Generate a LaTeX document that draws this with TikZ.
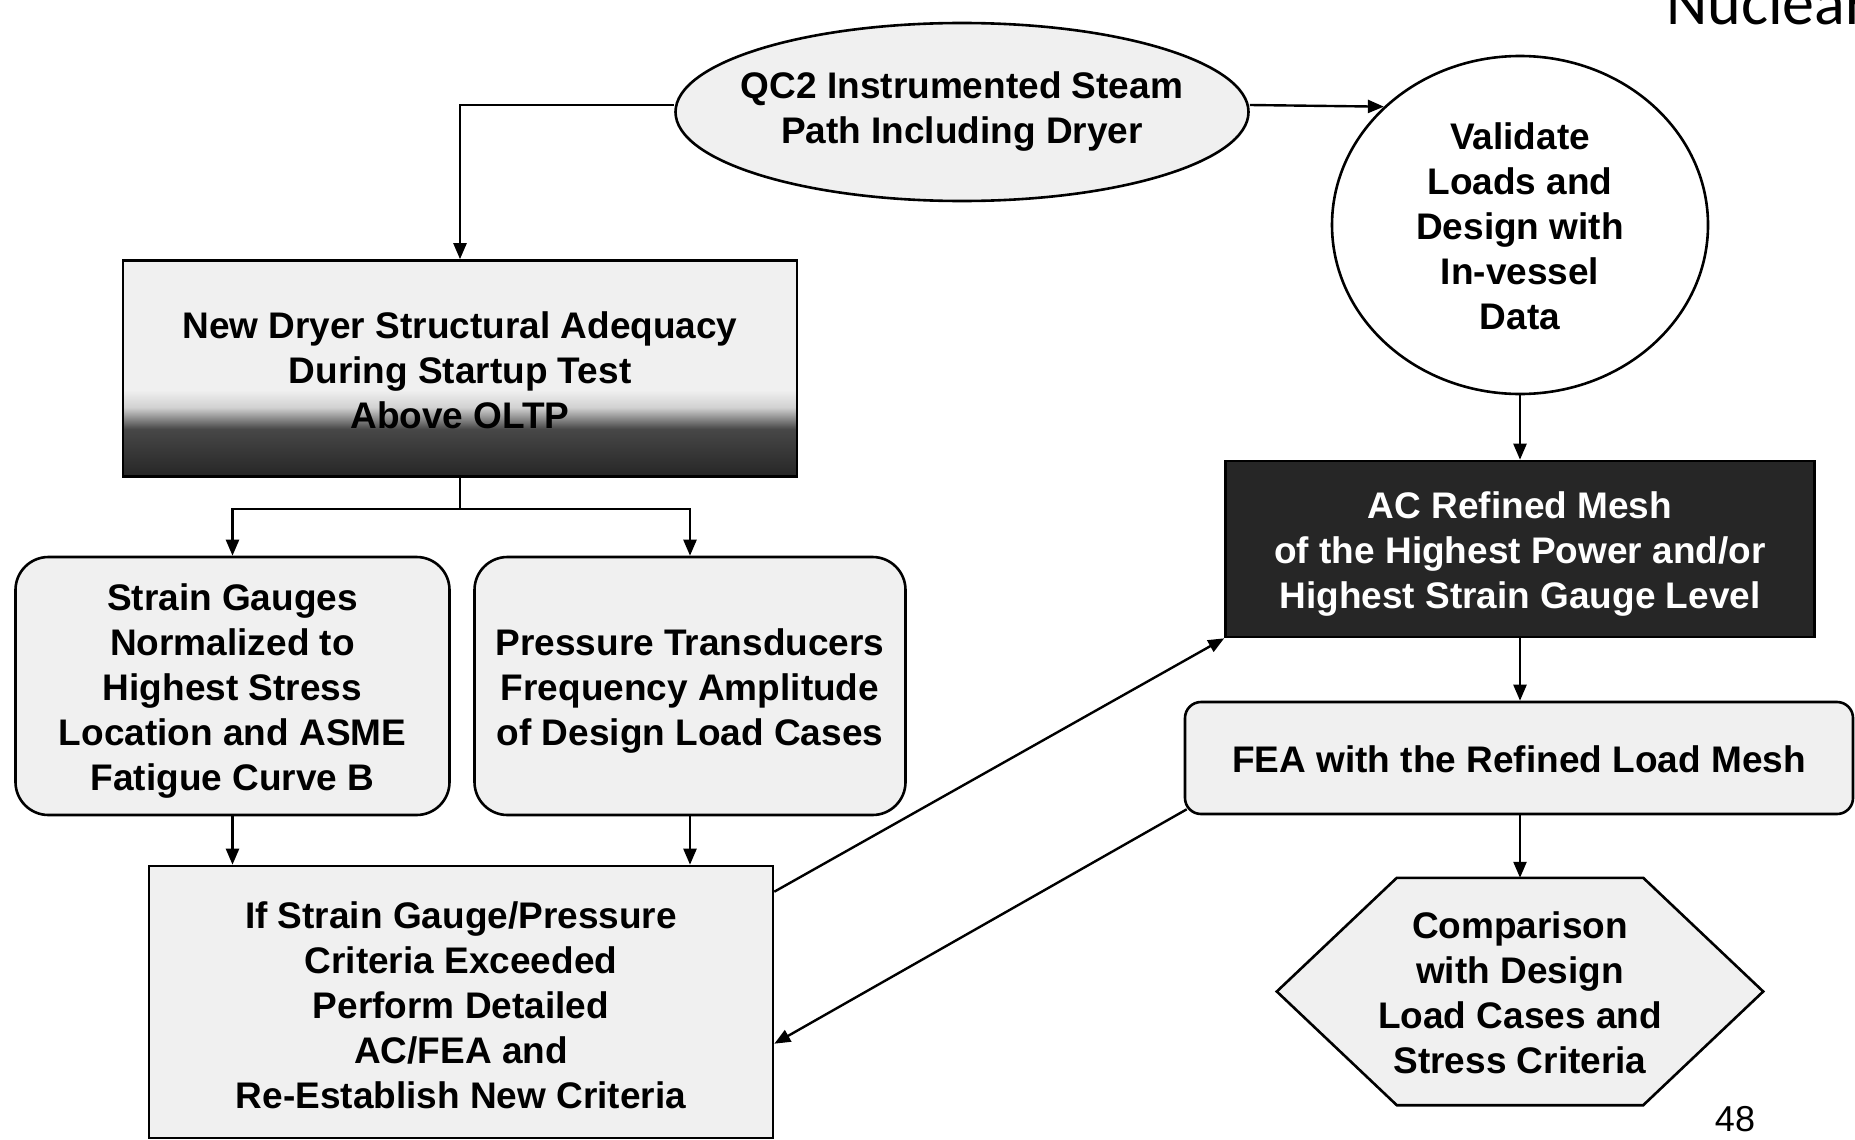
\documentclass[tikz,border=0pt]{standalone}
\usepackage{fontspec}
\setmainfont{Liberation Sans}
\newfontfamily\brandfont{Carlito}
\usetikzlibrary{shapes.geometric,arrows.meta,calc}
\pgfdeclarelayer{background}
\pgfsetlayers{background,main}
% dark band along the lower part of the startup-test box
\pgfdeclareverticalshading{dryershade}{100bp}{color(0bp)=(black!85); color(25bp)=(black!85); color(36bp)=(black!72); color(41bp)=(black!18); color(45bp)=(black!6); color(100bp)=(black!6)}
% centred block of lines; the optional height sets the room above the first line
\newcommand{\stk}[2][43pt]{\begin{tabular}{@{}c@{}}\rule{0pt}{#1}#2\end{tabular}}

\tikzset{
  every node/.style={font=\fontsize{37}{45}\selectfont\bfseries, inner sep=0pt},
  box/.style={draw, line width=2.6pt, fill=black!6},
  plainbox/.style={box, rectangle},
  roundbox/.style={box, rectangle, rounded corners=33pt},
  slimround/.style={box, rectangle, rounded corners=16pt},
  darkbox/.style={draw, line width=2.6pt, rectangle, fill=black!85, text=white},
  link/.style={line width=2.4pt},
  arr/.style={link, -{Triangle[length=16pt,width=13pt]}},
}

\begin{document}
\begin{tikzpicture}[x=1pt, y=-1pt]
\clip (0,0) rectangle (1855,1140);

% page header and page number
\node[anchor=base west, font=\brandfont\fontsize{64}{68}\selectfont] (brand) at (1666,25) {Nuclear};
\node[font=\fontsize{36}{40}\selectfont] (pageno) at (1735,1119) {48};

% left branch
\node[box, ellipse, inner xsep=-90pt, minimum width=573pt, minimum height=178pt] (ell) at (962,112)
  {\stk[31pt]{QC2 Instrumented Steam\\Path Including Dryer}};
\node[draw, line width=2.6pt, rectangle, shade, shading=dryershade, minimum width=674pt, minimum height=216pt] (dryer) at (460,368.5)
  {\stk{New Dryer Structural Adequacy\\During Startup Test\\Above OLTP}};
\node[roundbox, minimum width=434pt, minimum height=258pt] (strain) at (232.5,686)
  {\stk{Strain Gauges\\Normalized to\\Highest Stress\\Location and ASME\\Fatigue Curve B}};
\node[roundbox, minimum width=431pt, minimum height=258pt] (press) at (690,686)
  {\stk{Pressure Transducers\\Frequency Amplitude\\of Design Load Cases}};
\node[plainbox, minimum width=624pt, minimum height=272pt] (ifbox) at (461,1002)
  {\stk[47pt]{If Strain Gauge/Pressure\\Criteria Exceeded\\Perform Detailed\\AC/FEA and\\Re-Establish New Criteria}};

% right branch
\node[draw, line width=2.6pt, ellipse, fill=white, minimum width=376pt, minimum height=338pt] (val) at (1520,225)
  {\stk{Validate\\Loads and\\Design with\\In-vessel\\Data}};
\node[darkbox, minimum width=589pt, minimum height=176pt] (ac) at (1520,549)
  {\stk{AC Refined Mesh\\of the Highest Power and/or\\Highest Strain Gauge Level}};
\node[slimround, minimum width=668pt, minimum height=112pt] (fea) at (1519,758)
  {\stk{FEA with the Refined Load Mesh}};
\node[rectangle, minimum width=486pt, minimum height=227pt] (hex) at (1520,991.5)
  {\stk{Comparison\\with Design\\Load Cases and\\Stress Criteria}};
\begin{pgfonlayer}{background}
  \draw[box] ([xshift=120pt]hex.north west) -- ([xshift=-120pt]hex.north east) -- (hex.east)
    -- ([xshift=-120pt]hex.south east) -- ([xshift=120pt]hex.south west) -- (hex.west) -- cycle;
\end{pgfonlayer}

% connectors
\coordinate (split) at (460,509);
\draw[arr] ([yshift=7pt]ell.west) -| (dryer.north);
\draw[arr] ([yshift=7pt]ell.east) -- (val.139);
\draw[link] (dryer.south) -- (split);
\draw[arr] (split) -| (strain.north);
\draw[arr] (split) -| (press.north);
\draw[arr] (strain.south) -- (strain.south |- ifbox.north);
\draw[arr] (press.south) -- (press.south |- ifbox.north);
\draw[arr] (val.south) -- (ac.north);
\draw[arr] (ac.south) -- (ac.south |- fea.north);
\draw[arr] (fea.south -| hex.north) -- (hex.north);
\draw[arr] ([yshift=-27pt]ifbox.north east) -- (ac.south west);
\draw[arr] ([xshift=3pt,yshift=6pt]fea.south west) -- ([yshift=-179pt]ifbox.north east);
\end{tikzpicture}
\end{document}
